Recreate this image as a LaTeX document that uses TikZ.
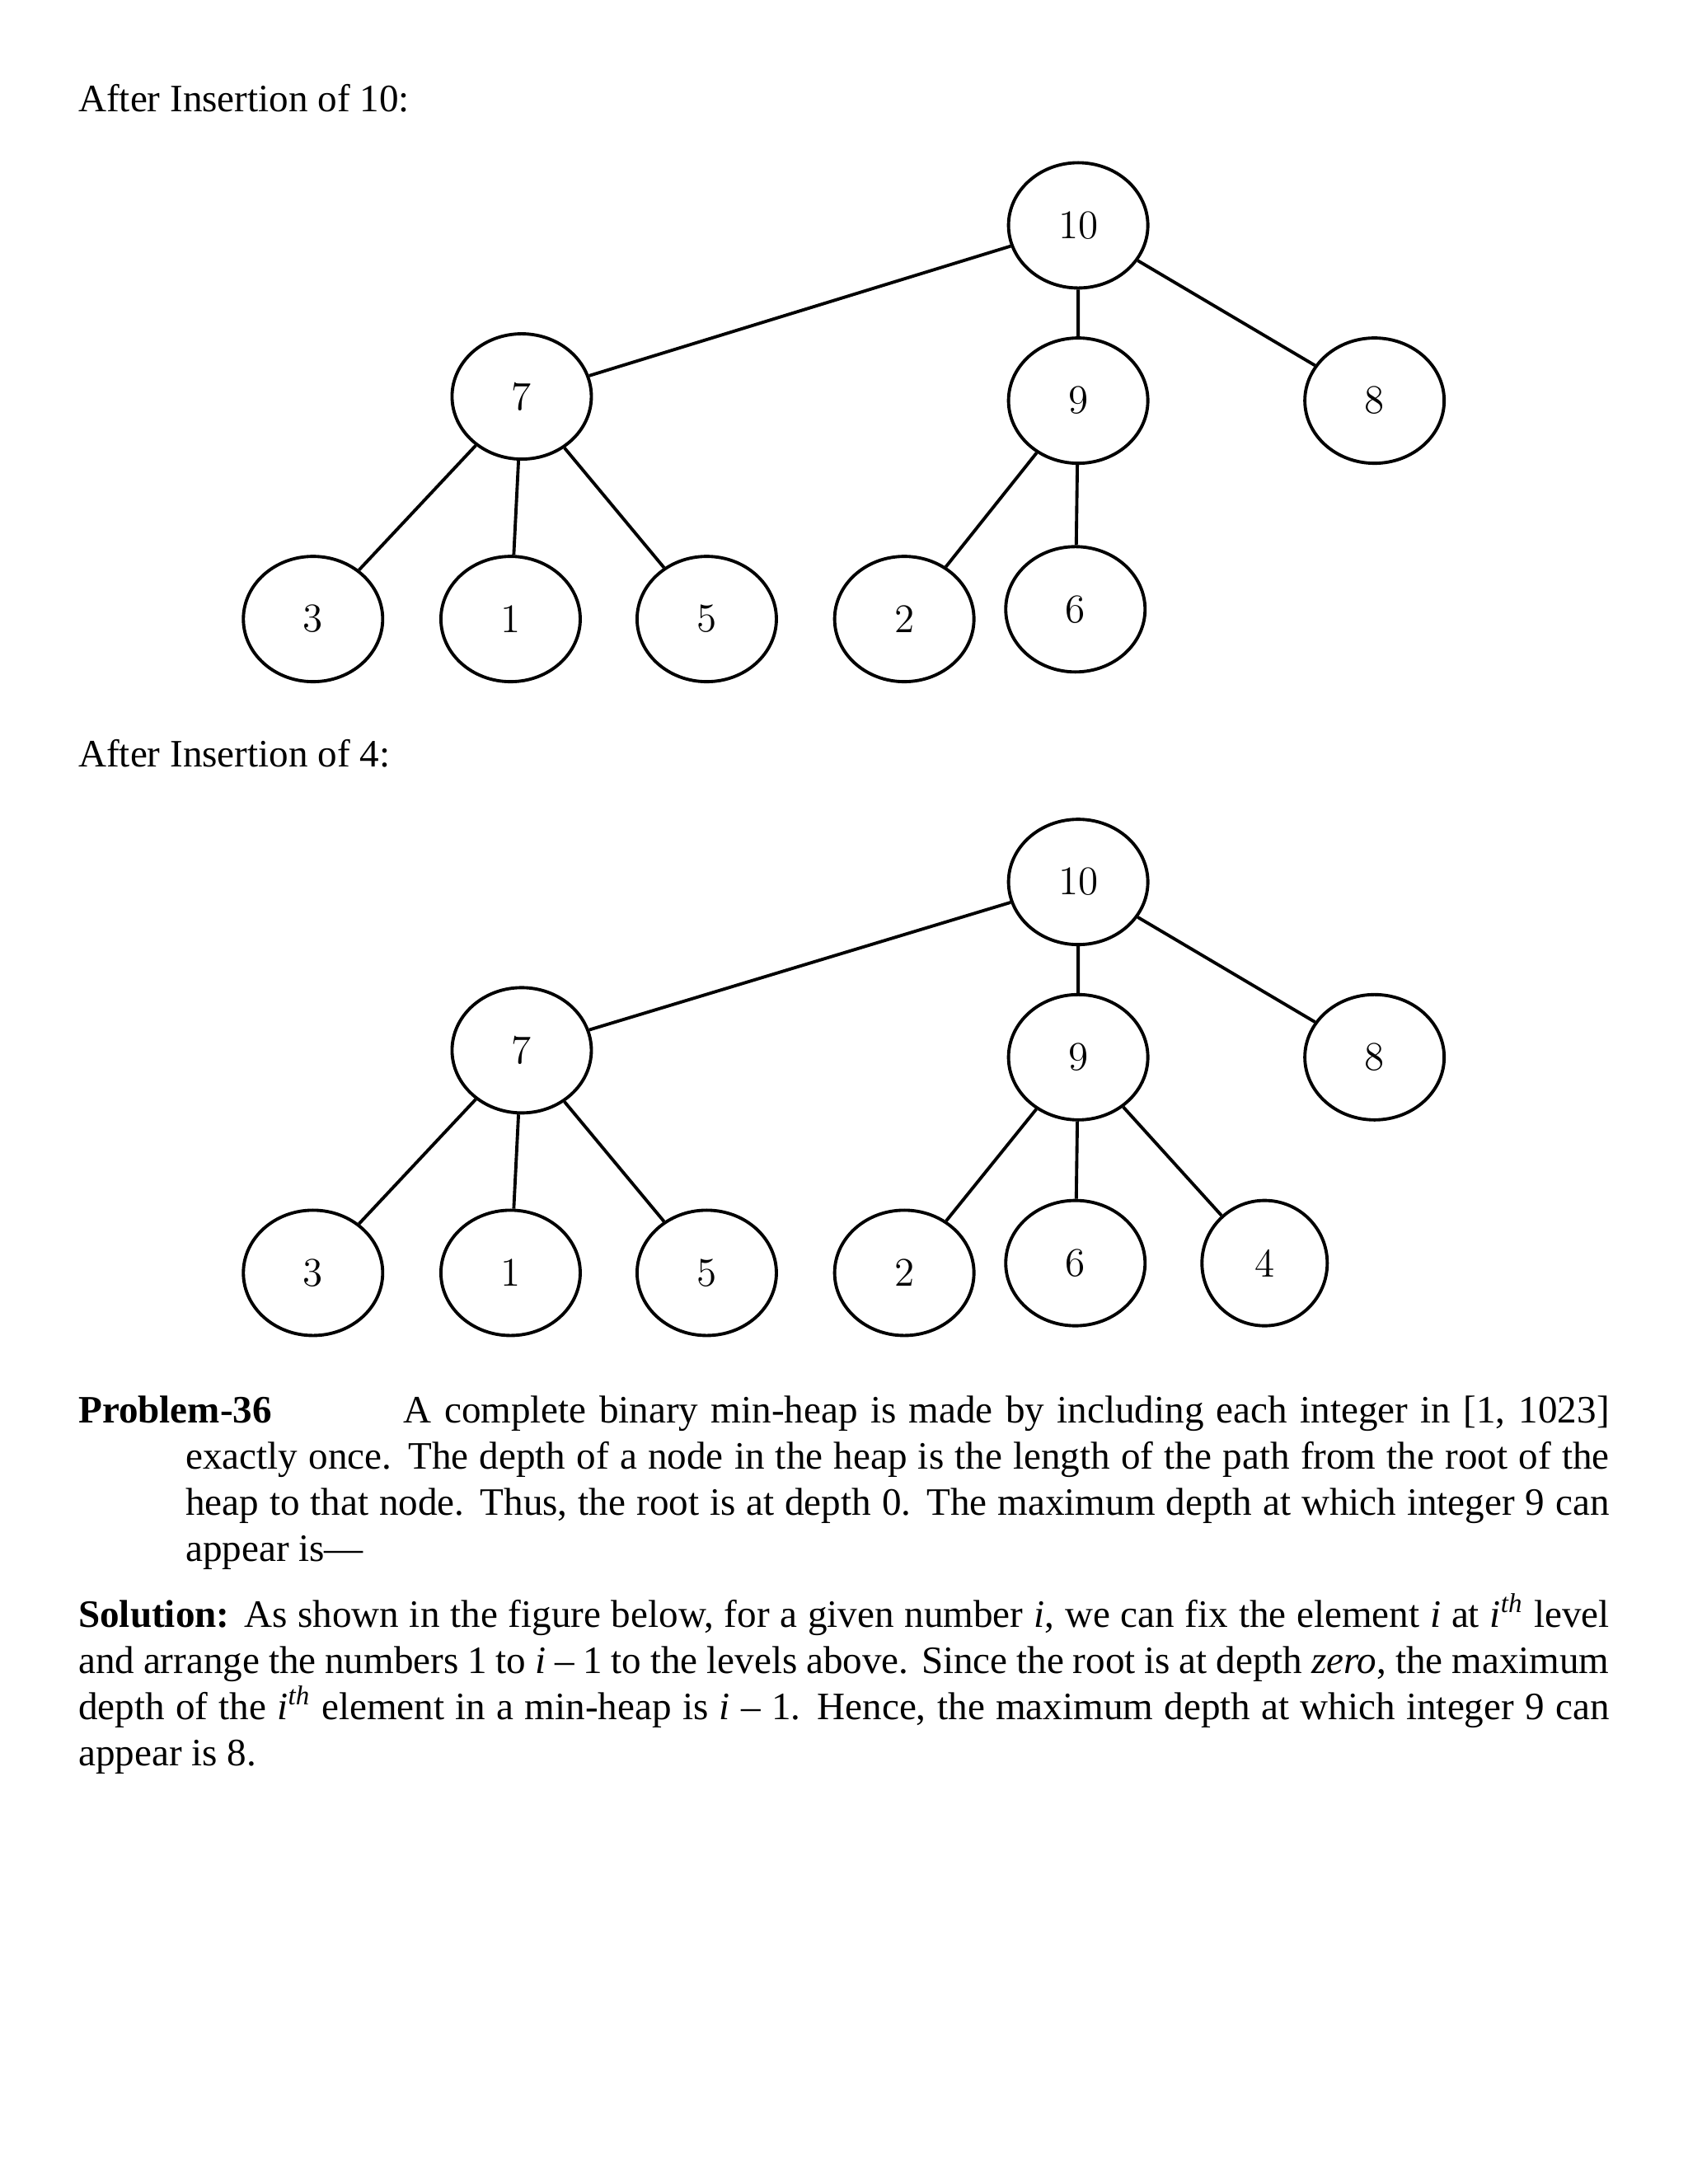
\documentclass[tikz,border=0pt]{standalone}
\usepackage{fontspec}
\usetikzlibrary{shapes.geometric}
\setmainfont{Liberation Serif}
\newfontfamily\lmr{Latin Modern Roman}
\begin{document}
\begin{tikzpicture}[x=0.01688cm,y=-0.01688cm,
  hn/.style={draw,ellipse,line width=1.1pt,minimum width=1.69cm,minimum height=1.52cm,inner sep=0pt,font=\lmr\fontsize{14}{16}\selectfont},
  hs/.style={hn,minimum width=1.52cm},
  ed/.style={line width=1.1pt},
  txt/.style={anchor=base west,inner sep=0pt,font=\fontsize{13.4}{15.9}\selectfont}]
\useasboundingbox (0,0) rectangle (1213,1570);
\node[txt] (t1) at (56,80) {After Insertion of 10:};
\foreach \n/\l/\x/\y in {a/10/775/162,b/7/375/285,c/9/775/288,d/8/988/288,e/3/225/445,f/1/367/445,g/5/508/445,h/2/650/445,i/6/773/438}
  \node[hn] (A\n) at (\x,\y) {\l};
\draw[ed] (Aa)--(Ab) (Aa)--(Ac) (Aa)--(Ad) (Ab)--(Ae) (Ab)--(Af) (Ab)--(Ag) (Ac)--(Ah) (Ac)--(Ai);
\node[txt] (t2) at (56,551) {After Insertion of 4:};
\foreach \n/\l/\x/\y in {a/10/775/634,b/7/375/755,c/9/775/760,d/8/988/760,e/3/225/915,f/1/367/915,g/5/508/915,h/2/650/915,i/6/773/908}
  \node[hn] (B\n) at (\x,\y) {\l};
\node[hs] (Bj) at (909,908) {4};
\draw[ed] (Ba)--(Bb) (Ba)--(Bc) (Ba)--(Bd) (Bb)--(Be) (Bb)--(Bf) (Bb)--(Bg) (Bc)--(Bh) (Bc)--(Bi) (Bc)--(Bj);
\node[anchor=north west,inner sep=0pt,text width=18.57cm,align=justify,font=\fontsize{13.4}{15.9}\selectfont] (p) at (56,1003)
 {\hangindent=1.3cm\hangafter=1 \textbf{Problem-36}\hspace{1.6cm}A complete binary min-heap is made by including each integer in [1, 1023] exactly once. The depth of a node in the heap is the length of the path from the root of the heap to that node. Thus, the root is at depth 0. The maximum depth at which integer 9 can appear is—\par\vspace{0.25cm}
 \textbf{Solution:} As shown in the figure below, for a given number \textit{i}, we can fix the element \textit{i} at \textit{i}\textsuperscript{\textit{th}} level and arrange the numbers 1 to \textit{i} – 1 to the levels above. Since the root is at depth \textit{zero}, the maximum depth of the \textit{i}\textsuperscript{\textit{th}} element in a min-heap is \textit{i} – 1. Hence, the maximum depth at which integer 9 can appear is 8.};
\end{tikzpicture}
\end{document}
